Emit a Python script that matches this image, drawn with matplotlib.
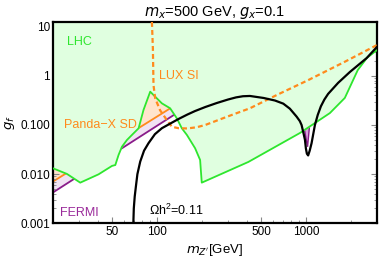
import matplotlib
matplotlib.use('Agg')
import matplotlib.pyplot as plt
from matplotlib.ticker import FixedLocator, NullFormatter

plt.rcParams['font.family'] = ['Liberation Sans', 'DejaVu Sans']
plt.rcParams['mathtext.fontset'] = 'custom'
plt.rcParams['mathtext.rm'] = 'Liberation Sans'
plt.rcParams['mathtext.it'] = 'Liberation Sans:italic'

# LHC exclusion boundary (region above is excluded)
lhc_m = [20, 24.9, 30.6, 40.6, 50, 52.6, 55.3, 58.3, 63, 68, 75.4, 81.3, 90.2, 97.4,
         108, 122.7, 136, 147, 159, 180.5, 195, 200, 411, 912, 1151, 1448, 1824,
         2228, 2563, 3000]
lhc_g = [0.0132, 0.0101, 0.0067, 0.0099, 0.0147, 0.0153, 0.0245, 0.0362, 0.0496,
         0.0627, 0.0857, 0.202, 0.477, 0.377, 0.276, 0.219, 0.137, 0.0857, 0.0627,
         0.0336, 0.0194, 0.0067, 0.0177, 0.0688, 0.11, 0.175, 0.356, 1.315, 2.31, 3.36]

# relic density curve, Omega h^2 = 0.11
relic_m = [69.5, 70, 71, 72.5, 74, 77.3, 82, 87.8, 97, 108, 125, 140, 160, 180, 211,
           252, 300, 340, 378, 421, 520, 620, 705, 780, 866, 910, 935, 961, 985,
           1000, 1015, 1035, 1060, 1091, 1149, 1200, 1260, 1330, 1409, 1644, 1972,
           2553, 3000]
relic_g = [0.001, 0.002, 0.0035, 0.006, 0.01, 0.018, 0.03, 0.0425, 0.065, 0.086,
           0.11, 0.133, 0.163, 0.192, 0.232, 0.28, 0.33, 0.365, 0.385, 0.39, 0.355,
           0.315, 0.272, 0.215, 0.148, 0.12, 0.1, 0.07, 0.05, 0.033, 0.026, 0.024,
           0.03, 0.0425, 0.1, 0.16, 0.24, 0.33, 0.43, 0.72, 1.2, 2.3, 3.9]

# LUX SI limit
lux_m = [92.6, 94, 94.9, 97.4, 105, 116.7, 126, 140, 160, 185, 211, 300, 421, 650,
         1036, 1800, 3000]
lux_g = [12.5, 3.6, 0.65, 0.35, 0.2, 0.126, 0.092, 0.086, 0.085, 0.09, 0.1, 0.15,
         0.219, 0.42, 0.82, 1.9, 4.25]

# Panda-X SD and FERMI limits
panda_m = [20, 200]
panda_g = [0.007, 0.55]
fermi_m = [20, 200]
fermi_g = [0.0042, 0.37]
# FERMI sliver at the resonance
fermi_res_m = [955, 1065, 1025]
fermi_res_g = [0.12, 0.12, 0.036]

ytop = 12.5
c_green = '#2ee62e'
c_orange = '#ff8a1c'
c_purple = '#8a1c8a'

fig = plt.figure(figsize=(3.82, 2.62), dpi=100)
ax = fig.add_axes([0.138, 0.148, 0.849, 0.768])

ax.fill_between(fermi_m, fermi_g, ytop, color='#f1e3f3', lw=0, zorder=1)
ax.fill_between(panda_m, panda_g, ytop, color='#ffe4cc', lw=0, zorder=1.1)
ax.plot(fermi_m, fermi_g, color=c_purple, lw=1.3, zorder=1.2)
ax.plot(panda_m, panda_g, color=c_orange, lw=1.3, zorder=1.2)
ax.fill(fermi_res_m, fermi_res_g, facecolor='#d9a0dc', edgecolor=c_purple, lw=1.0, zorder=1.3)
ax.fill_between(lhc_m, lhc_g, ytop, color='#e0ffe0', lw=0, zorder=2)
ax.plot(lhc_m, lhc_g, color=c_green, lw=1.3, zorder=3)
ax.plot(lux_m, lux_g, color=c_orange, lw=1.6, dashes=(2.2, 1.4), zorder=4)
ax.plot(relic_m, relic_g, color='black', lw=1.6, zorder=5)

ax.set_xscale('log')
ax.set_yscale('log')
ax.set_xlim(20, 3000)
ax.set_ylim(0.001, ytop)

ax.set_xticks([50, 100, 500, 1000])
ax.set_xticklabels(['50', '100', '500', '1000'])
minor_x = [20, 30, 40, 60, 70, 80, 90, 200, 300, 400, 600, 700, 800, 900, 2000, 3000]
ax.xaxis.set_minor_locator(FixedLocator(minor_x))
ax.xaxis.set_minor_formatter(NullFormatter())
ax.set_yticks([10, 1, 0.1, 0.01, 0.001])
ax.set_yticklabels(['10', '1', '0.100', '0.010', '0.001'])
minor_y = [m * 10.0 ** e for e in range(-3, 2) for m in range(2, 10)]
ax.yaxis.set_minor_locator(FixedLocator(minor_y))
ax.yaxis.set_minor_formatter(NullFormatter())

ax.tick_params(which='both', direction='in', top=True, right=True, color='#888888',
               labelsize=8.5, pad=2)
ax.tick_params(which='major', length=4, width=0.8)
ax.tick_params(which='minor', length=2, width=0.6)
for s in ax.spines.values():
    s.set_linewidth(1.6)

ax.set_title('$m_x$=500 GeV, $g_x$=0.1', fontsize=10.5, pad=4, math_fontfamily='dejavusans')
ax.set_xlabel("$m_{Z'}$[GeV]", fontsize=9.5, labelpad=3, math_fontfamily='dejavusans')
ax.set_ylabel('$g_f$', fontsize=9.5, labelpad=2, math_fontfamily='dejavusans')

ax.text(24.9, 4.95, 'LHC', color=c_green, fontsize=9, ha='left', va='center', zorder=6)
ax.text(103.8, 0.99, 'LUX SI', color=c_orange, fontsize=9, ha='left', va='center', zorder=6)
ax.text(23.7, 0.1, 'Panda\u2212X SD', color=c_orange, fontsize=9, ha='left', va='center', zorder=6)
ax.text(22.5, 0.00164, 'FERMI', color='#9a2a9a', fontsize=9, ha='left', va='center', zorder=6)
ax.text(88.8, 0.00186, '\u03a9h$^2$=0.11', color='black', fontsize=9, ha='left', va='center', zorder=6)

fig.savefig('out.png', dpi=100)
